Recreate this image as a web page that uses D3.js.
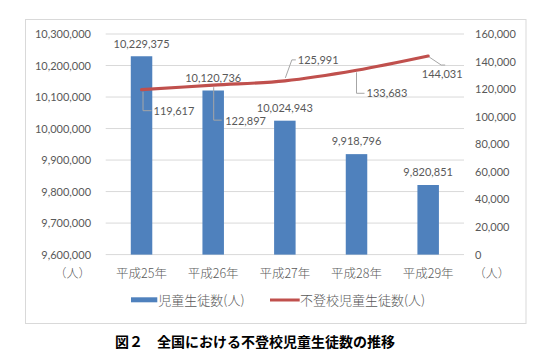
<!DOCTYPE html>
<html><head><meta charset="utf-8">
<script src="https://cdn.jsdelivr.net/npm/d3@7"></script>
<style>
html,body{margin:0;padding:0;background:#fff;}
svg{display:block;}
</style></head>
<body>
<svg id="c" width="545" height="361"></svg>
<script>
const categories = ["平成25年","平成26年","平成27年","平成28年","平成29年"];
const students = [10229375, 10120736, 10024943, 9918796, 9820851];
const absentees = [119617, 122897, 125991, 133683, 144031];
const leftTicks = [9600000, 9700000, 9800000, 9900000, 10000000, 10100000, 10200000, 10300000];
const rightTicks = [0, 20000, 40000, 60000, 80000, 100000, 120000, 140000, 160000];
const seriesNames = ["児童生徒数(人)", "不登校児童生徒数(人)"];
const unitLabel = "（人）";
const title = "図２　全国における不登校児童生徒数の推移";

// label placement for line data labels (relative to the point): text anchor offsets + leader elbow
const lineLabelLayout = [
  {tx: 12, ty: 21, anchor: "start", leader: [[1.5,2],[1.5,21],[10,21]]},
  {tx: 12, ty: 36, anchor: "start", leader: [[0.5,2],[0.5,35],[8.5,35]]},
  {tx: 13, ty: -21, anchor: "start", leader: [[0.5,-3],[7,-21],[11,-21]]},
  {tx: 10, ty: 23, anchor: "start", leader: [[0,2],[0,23],[8,23]]},
  {tx: 14, ty: 18, anchor: "middle", leader: [[1,1],[13,9],[17,9]]}
];

const numFont = "Lato, 'Noto Sans', sans-serif";
const jpFont = "'Noto Sans CJK JP', 'Noto Sans', sans-serif";
const grey = "#595959";
const barColor = "#4f81bd";
const lineColor = "#c0504d";

const svg = d3.select("#c");
const plot = {left: 105.7, right: 464, top: 34, bottom: 254.6};

// frame
svg.append("rect").attr("x",25.5).attr("y",19.5).attr("width",500.5).attr("height",304)
  .attr("fill","#fff").attr("stroke","#d9d9d9").attr("stroke-width",1);

const x = d3.scaleBand().domain(categories).range([plot.left, plot.right]).padding(0);
const yL = d3.scaleLinear().domain([9600000, 10300000]).range([plot.bottom, plot.top]);
const yR = d3.scaleLinear().domain([0, 160000]).range([plot.bottom, plot.top]);
const fmt = d3.format(",");

// gridlines + left axis
const leftAxis = d3.axisLeft(yL).tickValues(leftTicks).tickFormat(fmt).tickSize(0).tickPadding(14.7);
const gL = svg.append("g").attr("transform",`translate(${plot.left},0)`).call(leftAxis);
gL.select(".domain").remove();
gL.selectAll("text").attr("font-family",numFont).attr("font-size",11).attr("fill",grey);

svg.append("g").selectAll("line").data(leftTicks).join("line")
  .attr("x1",plot.left).attr("x2",plot.right)
  .attr("y1",d=>yL(d)).attr("y2",d=>yL(d))
  .attr("stroke","#d9d9d9").attr("stroke-width",1);

// right axis
const rightAxis = d3.axisRight(yR).tickValues(rightTicks).tickFormat(fmt).tickSize(0).tickPadding(11);
const gR = svg.append("g").attr("transform",`translate(${plot.right},0)`).call(rightAxis);
gR.select(".domain").remove();
gR.selectAll("text").attr("font-family",numFont).attr("font-size",11).attr("fill",grey);

// bars
const bw = x.bandwidth()*0.3;
svg.append("g").selectAll("rect").data(students).join("rect")
  .attr("x",(d,i)=>x(categories[i])+x.bandwidth()/2-bw/2)
  .attr("width",bw)
  .attr("y",d=>yL(d))
  .attr("height",d=>plot.bottom-yL(d))
  .attr("fill",barColor);

// bar labels
svg.append("g").selectAll("text").data(students).join("text")
  .attr("x",(d,i)=>x(categories[i])+x.bandwidth()/2)
  .attr("y",d=>yL(d)-12.5)
  .attr("dy","0.35em")
  .attr("text-anchor","middle")
  .attr("font-family",numFont).attr("font-size",11).attr("fill",grey)
  .text(d=>fmt(d));

// category labels
svg.append("g").selectAll("text").data(categories).join("text")
  .attr("x",d=>x(d)+x.bandwidth()/2)
  .attr("y",273.3).attr("dy","0.35em")
  .attr("text-anchor","middle")
  .attr("font-family",jpFont).attr("font-size",12.5).attr("font-weight",300).attr("fill",grey)
  .text(d=>d);

// unit labels
svg.append("text").attr("x",72.5).attr("y",273.3).attr("dy","0.35em").attr("text-anchor","middle")
  .attr("font-family",jpFont).attr("font-size",12).attr("font-weight",300).attr("fill",grey).text(unitLabel);
svg.append("text").attr("x",491.7).attr("y",273.3).attr("dy","0.35em").attr("text-anchor","middle")
  .attr("font-family",jpFont).attr("font-size",12).attr("font-weight",300).attr("fill",grey).text(unitLabel);

// line
const pts = absentees.map((d,i)=>[x(categories[i])+x.bandwidth()/2, yR(d)]);
svg.append("path").attr("d", d3.line().curve(d3.curveCatmullRom.alpha(0.5))(pts))
  .attr("fill","none").attr("stroke",lineColor).attr("stroke-width",3.2).attr("stroke-linecap","round");

// line labels with leader lines
const gLL = svg.append("g");
absentees.forEach((d,i)=>{
  const [px,py] = pts[i];
  const L = lineLabelLayout[i];
  gLL.append("path")
    .attr("d", d3.line()(L.leader.map(([a,b])=>[px+a, py+b])))
    .attr("fill","none").attr("stroke","#a6a6a6").attr("stroke-width",1);
  gLL.append("text").attr("x",px+L.tx).attr("y",py+L.ty).attr("dy","0.35em")
    .attr("text-anchor",L.anchor)
    .attr("font-family",numFont).attr("font-size",11).attr("fill",grey)
    .text(fmt(d));
});

// legend
svg.append("rect").attr("x",131).attr("y",297.3).attr("width",26.3).attr("height",5).attr("fill",barColor);
svg.append("text").attr("x",158.3).attr("y",300).attr("dy","0.35em")
  .attr("font-family",jpFont).attr("font-size",13).attr("font-weight",300).attr("fill",grey).text(seriesNames[0]);
svg.append("line").attr("x1",270).attr("x2",299.7).attr("y1",300).attr("y2",300)
  .attr("stroke",lineColor).attr("stroke-width",3);
svg.append("text").attr("x",300).attr("y",300).attr("dy","0.35em")
  .attr("font-family",jpFont).attr("font-size",13).attr("font-weight",300).attr("fill",grey).text(seriesNames[1]);

// title
svg.append("text").attr("x",115).attr("y",341.7).attr("dy","0.35em")
  .attr("font-family",jpFont).attr("font-size",14).attr("font-weight","bold").attr("fill","#000")
  .text(title);
</script>
</body></html>
